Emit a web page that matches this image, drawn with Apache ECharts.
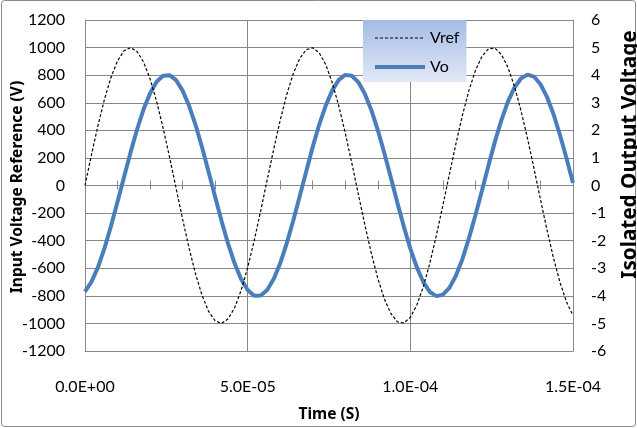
<!DOCTYPE html>
<html>
<head>
<meta charset="utf-8">
<script src="https://cdn.jsdelivr.net/npm/echarts@6/dist/echarts.min.js"></script>
<style>
html,body{margin:0;padding:0;background:#fff;}
#c{width:637px;height:428px;}
</style>
</head>
<body>
<div id="c"></div>
<script>
// time in microseconds
var timeUs = [0,2,4,6,8,10,12,14,16,18,20,22,24,26,28,30,32,34,36,38,40,42,44,46,48,50,52,54,56,58,60,62,64,66,68,70,72,74,76,78,80,82,84,86,88,90,92,94,96,98,100,102,104,106,108,110,112,114,116,118,120,122,124,126,128,130,132,134,136,138,140,142,144,146,148,150];
var vref = [0,224,436,627,785,904,977,1000,972,895,773,611,418,204,-20,-244,-455,-643,-798,-913,-981,-1000,-967,-886,-760,-595,-400,-184,40,263,473,658,810,921,985,999,962,876,746,578,381,164,-61,-283,-490,-673,-822,-928,-988,-997,-956,-867,-733,-562,-362,-144,81,302,508,688,833,936,991,996,950,856,719,545,343,124,-101,-321,-525,-703,-844,-943];
var vo = [-3.85,-3.49,-2.96,-2.27,-1.47,-0.59,0.31,1.20,2.03,2.76,3.34,3.76,3.98,4.00,3.82,3.44,2.89,2.19,1.38,0.49,-0.41,-1.30,-2.12,-2.83,-3.40,-3.79,-4.00,-3.99,-3.79,-3.39,-2.82,-2.10,-1.28,-0.39,0.51,1.40,2.21,2.90,3.45,3.83,4.01,3.98,3.75,3.33,2.74,2.01,1.18,0.29,-0.62,-1.49,-2.29,-2.97,-3.50,-3.86,-4.01,-3.96,-3.71,-3.27,-2.67,-1.92,-1.08,-0.19,0.72,1.59,2.37,3.04,3.55,3.88,4.02,3.95,3.67,3.21,2.59,1.83,0.99,0.09];
var xTickLabels = ['0.0E+00','5.0E-05','1.0E-04','1.5E-04'];
var seriesNames = ['Vref','Vo'];
var leftTitle = 'Input Voltage Reference (V)';
var rightTitle = 'Isolated Output Voltage';
var xTitle = 'Time (S)';

function zip(xs, ys){ var out=[]; for(var i=0;i<xs.length;i++){ out.push([xs[i], ys[i]]); } return out; }

var GRID = '#888888';
var FONT = 'Lato';
var TFONT = '"Noto Sans"';
var chart = echarts.init(document.getElementById('c'), null, {renderer:'canvas'});
var tickAxisBase = {
  type:'value', min:0, max:150, interval:10, position:'bottom',
  axisLabel:{show:false}, splitLine:{show:false}
};
var plainNum = function(v){ return String(v); };
chart.setOption({
  animation:false,
  backgroundColor:'#fff',
  grid:{left:85, right:64, top:20, bottom:77, containLabel:false, outerBoundsMode:'none'},
  xAxis:[
    {type:'value', min:0, max:150, interval:50, position:'bottom',
     axisLine:{show:true, onZero:false, lineStyle:{color:GRID, width:1}},
     axisTick:{show:false},
     axisLabel:{show:true, margin:28, fontSize:16, fontFamily:FONT, color:'#000',
       formatter:function(v, i){ return xTickLabels[i]; }},
     splitLine:{show:true, lineStyle:{color:GRID, width:1}}},
    Object.assign({}, tickAxisBase, {
     axisLine:{show:false, onZero:true, onZeroAxisIndex:0},
     axisTick:{show:true, inside:true, length:5, lineStyle:{color:GRID, width:1}}}),
    Object.assign({}, tickAxisBase, {
     axisLine:{show:false, onZero:true, onZeroAxisIndex:0},
     axisTick:{show:true, inside:false, length:4, lineStyle:{color:GRID, width:1}}})
  ],
  yAxis:[
    {type:'value', min:-1200, max:1200, interval:200, position:'left',
     axisLine:{show:true, onZero:false, lineStyle:{color:GRID, width:1}},
     axisTick:{show:false},
     axisLabel:{margin:20, fontSize:16, fontFamily:FONT, color:'#000', formatter:plainNum},
     splitLine:{show:true, lineStyle:{color:GRID, width:1}}},
    {type:'value', min:-6, max:6, interval:1, position:'right',
     axisLine:{show:true, onZero:false, lineStyle:{color:GRID, width:1}},
     axisTick:{show:false},
     axisLabel:{margin:18, fontSize:16, fontFamily:FONT, color:'#000', formatter:plainNum},
     splitLine:{show:false}}
  ],
  legend:{
    show:true, type:'plain',
    orient:'vertical', left:363, top:20,
    padding:[10,7,7,10], itemWidth:50, itemHeight:14, itemGap:13,
    selectedMode:false,
    backgroundColor:{type:'linear', x:0, y:0, x2:0, y2:1, colorStops:[
      {offset:0, color:'#A3BBE5'},{offset:1, color:'#E2E9F6'}]},
    textStyle:{fontSize:16, fontFamily:FONT, color:'#000'},
    data:[
      {name:seriesNames[0], itemStyle:{opacity:0, color:'rgba(0,0,0,0)', borderWidth:0},
       lineStyle:{color:'#000', width:1.2, type:[3,2]}},
      {name:seriesNames[1], itemStyle:{opacity:0, color:'rgba(0,0,0,0)', borderWidth:0},
       lineStyle:{color:'#4A7EBB', width:4}}
    ]
  },
  graphic:[
    {type:'rect', shape:{x:1.5, y:0.5, width:634, height:426, r:3}, style:{fill:'none', stroke:'#8a8a8a', lineWidth:1}, z:-10},
    {type:'text', x:18, y:187, rotation:Math.PI/2,
     style:{text:leftTitle, font:'bold 15.5px ' + TFONT, fill:'#000', align:'center', verticalAlign:'middle'}},
    {type:'text', x:630, y:154.5, rotation:Math.PI/2,
     style:{text:rightTitle, font:'bold 20.7px ' + TFONT, fill:'#000', align:'center', verticalAlign:'middle'}},
    {type:'text', x:329, y:414.5,
     style:{text:xTitle, font:'bold 15.5px ' + TFONT, fill:'#000', align:'center', verticalAlign:'middle'}}
  ],
  series:[
    {name:seriesNames[1], type:'line', xAxisIndex:0, yAxisIndex:1, data:zip(timeUs, vo),
     symbol:'none', showSymbol:false, smooth:false,
     lineStyle:{color:'#4A7EBB', width:4}, itemStyle:{color:'#4A7EBB'}},
    {name:seriesNames[0], type:'line', xAxisIndex:0, yAxisIndex:0, data:zip(timeUs, vref),
     symbol:'none', showSymbol:false, smooth:false,
     lineStyle:{color:'#000', width:1.2, type:[3,2]}, itemStyle:{color:'#000'}}
  ]
});
</script>
</body>
</html>
